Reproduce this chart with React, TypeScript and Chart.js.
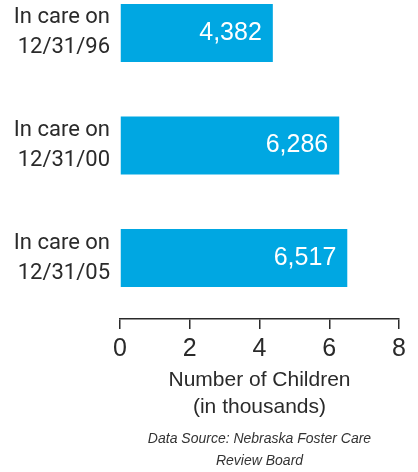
import React, { useEffect, useRef } from "react";
import { Chart, registerables } from "chart.js";

Chart.register(...registerables);

const categories: string[][] = [
  ["In care on", "12/31/96"],
  ["In care on", "12/31/00"],
  ["In care on", "12/31/05"],
];
const childrenCounts: number[] = [4382, 6286, 6517];
const xTickValues: number[] = [0, 2, 4, 6, 8];
const axisTitle: string[] = ["Number of Children", "(in thousands)"];
const sourceNote: string[] = ["Data Source: Nebraska Foster Care", "Review Board"];

const BAR_COLOR = "#00A7E2";
const TEXT_COLOR = "#2a2a2a";
const FONT = "'Liberation Sans', Arial, sans-serif";
const LABEL_FONT = "Roboto, 'Liberation Sans', sans-serif";

const valueLabels = {
  id: "valueLabels",
  afterDatasetsDraw(chart: any) {
    const ctx = chart.ctx;
    const meta = chart.getDatasetMeta(0);
    ctx.save();
    ctx.fillStyle = "#ffffff";
    ctx.font = `25px ${FONT}`;
    ctx.textAlign = "right";
    ctx.textBaseline = "middle";
    meta.data.forEach((bar: any, i: number) => {
      ctx.fillText(childrenCounts[i].toLocaleString("en-US"), bar.x - 11, bar.y);
    });
    ctx.restore();
  },
};

export default function App() {
  const canvasRef = useRef<HTMLCanvasElement | null>(null);

  useEffect(() => {
    if (!canvasRef.current) return;
    const chart = new Chart(canvasRef.current, {
      type: "bar",
      data: {
        datasets: [
          {
            data: childrenCounts.map((c, i) => ({ x: c / 1000, y: i })) as any,
            backgroundColor: BAR_COLOR,
            borderWidth: 0,
            barPercentage: 0.516,
            categoryPercentage: 1,
          },
        ],
      },
      options: {
        indexAxis: "y",
        animation: false,
        responsive: false,
        layout: { padding: { left: 0, right: 19, top: 0, bottom: 0 } },
        plugins: {
          legend: { display: false },
          tooltip: { enabled: false },
          title: { display: false },
          subtitle: {
            display: true,
            position: "bottom",
            fullSize: false,
            text: sourceNote,
            color: "#333333",
            font: { family: FONT, size: 14, style: "italic", lineHeight: 22 / 14 },
            padding: { top: 0, bottom: 0 },
          },
        },
        scales: {
          x: {
            type: "linear",
            position: "bottom",
            min: 0,
            max: 8,
            afterBuildTicks: (scale: any) => {
              scale.ticks = xTickValues.map((v) => ({ value: v }));
            },
            afterFit: (scale: any) => {
              scale.height = 109;
            },
            grid: {
              display: true,
              drawOnChartArea: false,
              drawTicks: true,
              tickLength: 10,
              color: TEXT_COLOR,
              lineWidth: 1.5,
            },
            border: { display: true, color: TEXT_COLOR, width: 1.5 },
            ticks: {
              color: TEXT_COLOR,
              padding: 5,
              font: { family: FONT, size: 25 },
              maxRotation: 0,
            },
            title: {
              display: true,
              text: axisTitle,
              color: TEXT_COLOR,
              font: { family: FONT, size: 21, lineHeight: 27 / 21 },
              padding: { top: 0, bottom: 7.5 },
            },
          },
          y: {
            type: "linear",
            reverse: true,
            offset: false,
            min: -0.2933,
            max: 2.5422,
            afterBuildTicks: (scale: any) => {
              scale.ticks = categories.map((_, i) => ({ value: i }));
            },
            afterFit: (scale: any) => {
              scale.width = 120;
              scale.paddingTop = 0;
              scale.paddingBottom = 0;
            },
            grid: { display: false, offset: false, drawTicks: false, tickLength: 0 },
            border: { display: false },
            ticks: {
              color: TEXT_COLOR,
              padding: 10,
              font: { family: LABEL_FONT, size: 22, lineHeight: 30 / 22 },
              callback: (value: any) => categories[Number(value)] ?? "",
            },
          },
        },
      },
      plugins: [valueLabels],
    });
    return () => chart.destroy();
  }, []);

  return (
    <div style={{ position: "absolute", left: 0, top: 0, width: 418, height: 472 }}>
      <canvas ref={canvasRef} width={418} height={472} />
    </div>
  );
}
